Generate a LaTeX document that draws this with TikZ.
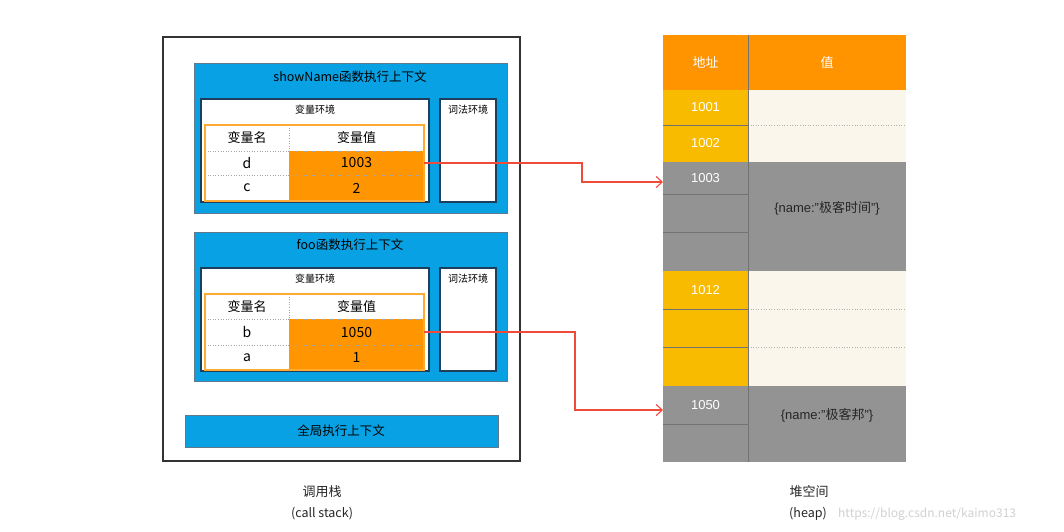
\documentclass[tikz,border=0pt]{standalone}
\usepackage{fontspec}
\setmainfont{Noto Sans CJK SC}
\newfontfamily\hel{Liberation Sans}
\usetikzlibrary{arrows.meta,calc}
\definecolor{cblue}{HTML}{08A2E4}
\definecolor{cnavy}{HTML}{1E3F5C}
\definecolor{corange}{HTML}{FF9500}
\definecolor{chead}{HTML}{FF9300}
\definecolor{cyellow}{HTML}{F8BB00}
\definecolor{cgray}{HTML}{939393}
\definecolor{ccream}{HTML}{FAF6EC}
\definecolor{cred}{HTML}{EE4B3A}
\tikzset{
  box/.style={rectangle, anchor=north west, inner sep=0pt, outer sep=0pt},
  outerbox/.style={box, draw=black!80, line width=1.3pt},
  ctxbox/.style={box, fill=cblue, draw=cnavy!70, line width=0.6pt},
  whitebox/.style={box, fill=white, draw=cnavy, line width=1.4pt},
  tabframe/.style={box, draw=corange!80, line width=1.8pt},
  namecell/.style={box, fill=white, font=\fontsize{14}{16}\selectfont},
  valcell/.style={box, fill=corange, font=\fontsize{14}{16}\selectfont},
  headcell/.style={box, fill=white, font=\fontsize{13}{15}\selectfont},
  title/.style={font=\fontsize{12.5}{14}\selectfont, inner sep=0pt},
  small/.style={font=\fontsize{10}{12}\selectfont, inner sep=0pt},
  sep/.style={draw=black!35, dotted, line width=0.6pt},
  haddr/.style={box, text=white, font=\hel\fontsize{13}{15}\selectfont},
  hval/.style={box, font=\fontsize{13}{15}\selectfont, text=black!85},
  hline/.style={draw=black!55, line width=0.6pt},
  hdot/.style={draw=black!30, dotted, line width=0.6pt},
  ptr/.style={draw=cred, line width=1.1pt, -{Straight Barb[length=6pt,width=11pt]}},
  lbl/.style={font=\fontsize{13}{15}\selectfont, inner sep=0pt, text=black!85}
}
\begin{document}
\begin{tikzpicture}[x=1pt,y=-1pt]
\useasboundingbox (0,0) rectangle (1064,531);
\fill[white] (0,0) rectangle (1064,531);

% call stack outer box
\node[outerbox, minimum width=357pt, minimum height=424pt] (stack) at (163,37) {};

% showName context
\node[ctxbox, minimum width=313pt, minimum height=150pt] (ctx1) at (194,63) {};
\node[title] (ctx1t) at (350,77) {showName函数执行上下文};
\node[whitebox, minimum width=228pt, minimum height=103pt] (var1) at (201,99) {};
\node[small] (var1t) at (315,110) {变量环境};
\node[whitebox, minimum width=56pt, minimum height=103pt] (lex1) at (440,99) {};
\node[small] (lex1t) at (468,110) {词法环境};
\node[headcell, minimum width=84pt, minimum height=26pt] (h1n) at (205,125) {变量名};
\node[headcell, minimum width=135pt, minimum height=26pt] (h1v) at (289,125) {变量值};
\node[namecell, minimum width=84pt, minimum height=24pt] (dn) at (205,151) {d};
\node[valcell, minimum width=135pt, minimum height=24pt] (dv) at (289,151) {1003};
\node[namecell, minimum width=84pt, minimum height=26pt] (cn) at (205,175) {c};
\node[valcell, minimum width=135pt, minimum height=26pt] (cv) at (289,175) {2};
\draw[sep] (h1n.north east) -- (cn.south east);
\draw[sep] (dn.south west) -- (dv.south east);
\draw[sep] (h1n.south west) -- (h1v.south east);
\node[tabframe, minimum width=219pt, minimum height=76pt] (tab1) at (205,125) {};

% foo context
\node[ctxbox, minimum width=313pt, minimum height=149pt] (ctx2) at (194,232) {};
\node[title] (ctx2t) at (350,245) {foo函数执行上下文};
\node[whitebox, minimum width=228pt, minimum height=103pt] (var2) at (201,268) {};
\node[small] (var2t) at (315,279) {变量环境};
\node[whitebox, minimum width=56pt, minimum height=103pt] (lex2) at (440,268) {};
\node[small] (lex2t) at (468,279) {词法环境};
\node[headcell, minimum width=84pt, minimum height=25pt] (h2n) at (205,294) {变量名};
\node[headcell, minimum width=135pt, minimum height=25pt] (h2v) at (289,294) {变量值};
\node[namecell, minimum width=84pt, minimum height=26pt] (bn) at (205,319) {b};
\node[valcell, minimum width=135pt, minimum height=26pt] (bv) at (289,319) {1050};
\node[namecell, minimum width=84pt, minimum height=25pt] (an) at (205,345) {a};
\node[valcell, minimum width=135pt, minimum height=25pt] (av) at (289,345) {1};
\draw[sep] (h2n.north east) -- (an.south east);
\draw[sep] (bn.south west) -- (bv.south east);
\draw[sep] (h2n.south west) -- (h2v.south east);
\node[tabframe, minimum width=219pt, minimum height=76pt] (tab2) at (205,294) {};

% global context
\node[ctxbox, minimum width=313pt, minimum height=32pt] (glob) at (185,415) {};
\node[title] (globt) at (341,431) {全局执行上下文};

% heap
\node[box, fill=chead, text=white, font=\fontsize{13}{15}\selectfont, minimum width=85pt, minimum height=55pt] (hadr) at (663,35) {地址};
\node[box, fill=chead, text=white, font=\fontsize{13}{15}\selectfont, minimum width=158pt, minimum height=55pt] (hval) at (748,35) {值};
\node[haddr, fill=cyellow, minimum width=85pt, minimum height=35pt] (a1001) at (663,90) {1001};
\node[haddr, fill=cyellow, minimum width=85pt, minimum height=37pt] (a1002) at (663,125) {1002};
\node[haddr, fill=cgray, minimum width=85pt, minimum height=32pt] (a1003) at (663,162) {1003};
\node[haddr, fill=cgray, minimum width=85pt, minimum height=38pt] (a1003b) at (663,194) {};
\node[haddr, fill=cgray, minimum width=85pt, minimum height=39pt] (a1003c) at (663,232) {};
\node[haddr, fill=cyellow, minimum width=85pt, minimum height=38pt] (a1012) at (663,271) {1012};
\node[haddr, fill=cyellow, minimum width=85pt, minimum height=38pt] (a1012b) at (663,309) {};
\node[haddr, fill=cyellow, minimum width=85pt, minimum height=39pt] (a1012c) at (663,347) {};
\node[haddr, fill=cgray, minimum width=85pt, minimum height=38pt] (a1050) at (663,386) {1050};
\node[haddr, fill=cgray, minimum width=85pt, minimum height=38pt] (a1050b) at (663,424) {};

\node[hval, fill=ccream, minimum width=158pt, minimum height=35pt] (v1001) at (748,90) {};
\node[hval, fill=ccream, minimum width=158pt, minimum height=37pt] (v1002) at (748,125) {};
\node[hval, fill=cgray, minimum width=158pt, minimum height=109pt] (v1003) at (748,162) {};
\node[hval, anchor=center, inner sep=0pt] (v1003t) at (827,208) {{\hel\{name:”}极客时间{\hel ”\}}};
\node[hval, fill=ccream, minimum width=158pt, minimum height=38pt] (v1012) at (748,271) {};
\node[hval, fill=ccream, minimum width=158pt, minimum height=38pt] (v1012b) at (748,309) {};
\node[hval, fill=ccream, minimum width=158pt, minimum height=39pt] (v1012c) at (748,347) {};
\node[hval, fill=cgray, minimum width=158pt, minimum height=76pt] (v1050) at (748,386) {};
\node[hval, anchor=center, inner sep=0pt] (v1050t) at (827,415) {{\hel\{name:”}极客邦{\hel ”\}}};

\draw[hline] (a1003.south west) -- (a1003.south east);
\draw[hline] (a1003b.south west) -- (a1003b.south east);
\draw[hline] (a1001.south west) -- (a1001.south east);
\draw[hline] (a1012.south west) -- (a1012.south east);
\draw[hline] (a1012b.south west) -- (a1012b.south east);
\draw[hline] (a1050.south west) -- (a1050.south east);
\draw[hdot] (v1001.south west) -- (v1001.south east);
\draw[hdot] (v1012.south west) -- (v1012.south east);
\draw[hdot] (v1012b.south west) -- (v1012b.south east);
\draw[hline] (hadr.north east) -- (a1050b.south east);

% pointers
\draw[ptr] (dv.east) -- ($(dv.east)+(158,0)$) |- ($(a1003.west)+(0,4)$);
\draw[ptr] (bv.east) -- ($(bv.east)+(151,0)$) |- ($(a1050.west)+(0,5)$);

% labels
\node[lbl] (l1) at (322,492) {调用栈};
\node[lbl, font=\fontsize{12.5}{15}\selectfont] (l2) at (322,514) {(call stack)};
\node[lbl] (l3) at (809,492) {堆空间};
\node[lbl, font=\fontsize{12.5}{15}\selectfont] (l4) at (808,514) {(heap)};
\node[lbl, anchor=west, text=black!18, font=\fontsize{12}{14}\selectfont] (wm) at (838,514) {https://blog.csdn.net/kaimo313};
\end{tikzpicture}
\end{document}
